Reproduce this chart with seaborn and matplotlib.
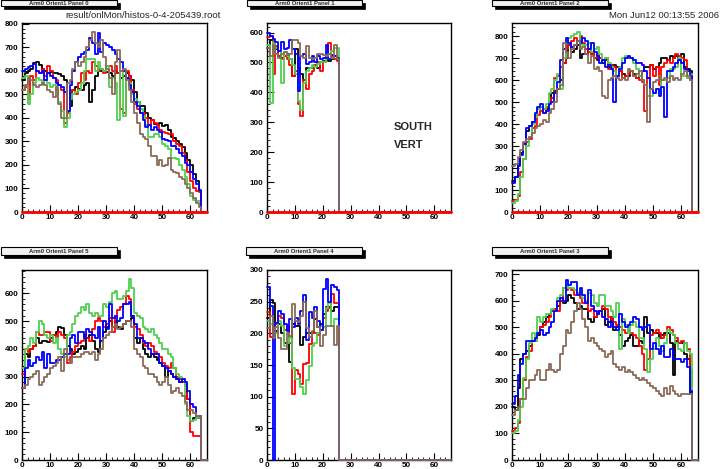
import matplotlib
matplotlib.use("Agg")
import matplotlib.pyplot as plt
from matplotlib.patches import Rectangle
from matplotlib.ticker import MultipleLocator
import numpy as np
import pandas as pd
import seaborn as sns

# ---------------- data ----------------
series_names = ["black", "red", "green", "blue", "brown"]
series_colors = ["#000000", "#ff0000", "#4fcf4f", "#0000ff", "#8b6a58"]

panel_titles = ["Arm0 Orient1 Panel 0", "Arm0 Orient1 Panel 1", "Arm0 Orient1 Panel 2",
                "Arm0 Orient1 Panel 5", "Arm0 Orient1 Panel 4", "Arm0 Orient1 Panel 3"]
panel_ymax = [804, 632, 860, 684, 300, 716]
panel_ymajor = [100, 100, 100, 100, 50, 100]

# Panel 0
p0_black = [560, 590, 600, 610, 635, 640, 625, 610, 600, 590, 595, 590, 590, 585, 580, 560, 430, 450, 520, 530,
            525, 520, 540, 550, 470, 520, 580, 610, 600, 600, 595, 590, 580, 600, 590, 570, 580, 590, 580, 560,
            510, 470, 450, 450, 420, 400, 390, 375, 370, 380, 365, 370, 350, 320, 315, 300, 290, 275, 250, 220,
            200, 160, 130, 90]
p0_red = [520, 530, 480, 580, 560, 600, 590, 610, 580, 620, 600, 570, 560, 540, 520, 380, 420, 510, 520, 500,
          550, 590, 560, 600, 590, 640, 620, 600, 610, 590, 620, 620, 600, 620, 590, 440, 420, 600, 580, 520,
          460, 440, 420, 420, 400, 370, 390, 380, 370, 350, 340, 335, 330, 330, 300, 290, 280, 250, 220, 170,
          130, 100, 90, 85]
p0_green = [570, 580, 460, 500, 550, 570, 560, 545, 560, 550, 530, 540, 520, 470, 430, 360, 400, 480, 500, 510,
            520, 550, 600, 650, 650, 650, 600, 640, 610, 600, 620, 530, 570, 550, 390, 600, 410, 570, 550, 500,
            480, 470, 440, 410, 370, 320, 320, 330, 330, 320, 290, 280, 270, 230, 230, 225, 200, 180, 150, 120,
            70, 50, 45, 45]
p0_blue = [600, 610, 615, 620, 630, 600, 590, 600, 560, 590, 580, 570, 550, 540, 530, 510, 430, 540, 600, 640,
           660, 670, 680, 690, 740, 720, 670, 760, 680, 720, 710, 700, 690, 670, 650, 640, 600, 570, 540, 510,
           470, 450, 420, 390, 360, 370, 350, 360, 350, 340, 310, 305, 300, 280, 280, 270, 250, 240, 210, 200,
           170, 140, 120, 95]
p0_brown = [520, 540, 570, 560, 540, 530, 540, 550, 540, 520, 510, 490, 530, 460, 400, 400, 550, 560, 610, 640,
            620, 640, 660, 700, 730, 765, 720, 700, 730, 660, 610, 570, 500, 640, 690, 600, 610, 560, 520, 470,
            420, 380, 330, 320, 310, 280, 240, 240, 200, 220, 195, 200, 230, 180, 170, 165, 150, 140, 120, 100,
            80, 60, 40, 20]

# Panel 1
p1_black = [550, 575, 560, 545, 520, 515, 520, 530, 510, 455, 545, 480, 460, 440, 480, 480, 480, 490, 480, 500,
            505, 510, 505, 510, 520, 510]
p1_red = [585, 590, 460, 555, 520, 510, 520, 510, 490, 455, 470, 360, 320, 440, 410, 460, 470, 490, 500, 470,
          500, 510, 565, 520, 510, 505]
p1_green = [560, 365, 570, 550, 540, 430, 535, 520, 510, 490, 460, 370, 340, 430, 470, 480, 490, 485, 495, 500,
            500, 510, 530, 540, 550, 550]
p1_blue = [600, 590, 580, 570, 540, 570, 545, 550, 575, 545, 530, 405, 520, 530, 495, 500, 520, 500, 520, 510,
           515, 560, 510, 525, 520, 515]
p1_brown = [550, 520, 560, 530, 515, 530, 535, 525, 530, 575, 575, 565, 520, 515, 555, 515, 510, 515, 530, 530,
            525, 520, 530, 515, 560, 510]

# Panel 2
p2_black = [140, 160, 220, 270, 310, 370, 390, 410, 440, 470, 480, 470, 470, 500, 540, 550, 560, 600, 680, 700,
            760, 730, 740, 760, 700, 720, 720, 740, 720, 700, 690, 700, 680, 690, 660, 650, 670, 660, 640, 630,
            620, 620, 640, 630, 610, 620, 640, 660, 660, 670, 650, 660, 680, 700, 700, 690, 710, 700, 710, 690,
            720, 660, 650, 640]
p2_red = [50, 55, 75, 180, 240, 320, 330, 380, 390, 440, 460, 450, 480, 500, 520, 610, 620, 660, 680, 740,
          760, 780, 790, 780, 800, 770, 740, 730, 720, 700, 720, 700, 690, 700, 650, 670, 660, 620, 640, 610,
          620, 630, 640, 620, 610, 600, 590, 460, 610, 670, 620, 660, 580, 660, 680, 690, 680, 700, 720, 710,
          700, 690, 610, 600]
p2_green = [40, 50, 80, 160, 240, 300, 340, 400, 430, 470, 480, 470, 490, 540, 560, 600, 630, 560, 700, 770,
            790, 800, 810, 820, 770, 760, 760, 770, 730, 740, 750, 720, 690, 700, 680, 660, 640, 620, 660, 700,
            710, 700, 700, 680, 650, 620, 600, 580, 530, 530, 540, 560, 550, 600, 600, 610, 650, 650, 660, 700,
            620, 620, 610, 630]
p2_blue = [130, 160, 210, 260, 310, 380, 390, 410, 450, 480, 490, 450, 460, 490, 500, 540, 590, 690, 740, 790,
           770, 750, 760, 780, 770, 790, 780, 740, 770, 730, 710, 680, 690, 660, 670, 650, 500, 620, 650, 680,
           700, 710, 700, 690, 680, 680, 670, 640, 610, 560, 540, 560, 530, 570, 430, 640, 640, 660, 680, 690,
           680, 650, 640, 620]
p2_brown = [210, 220, 250, 280, 320, 330, 340, 360, 380, 390, 400, 420, 410, 450, 470, 500, 560, 580, 770, 730,
            700, 740, 760, 780, 740, 750, 720, 680, 710, 650, 660, 640, 530, 520, 600, 610, 620, 610, 600, 610,
            600, 650, 640, 620, 630, 640, 600, 580, 410, 560, 590, 600, 620, 600, 610, 590, 620, 600, 610, 600,
            630, 640, 620, 600]

# Panel 5 (bottom left)
p3_black = [260, 380, 370, 400, 410, 440, 420, 430, 430, 425, 440, 450, 460, 480, 475, 450, 410, 400, 380, 390,
            400, 410, 400, 440, 450, 430, 400, 390, 430, 460, 480, 500, 480, 500, 480, 470, 490, 500, 500, 510,
            440, 420, 440, 400, 380, 370, 380, 370, 360, 350, 340, 300, 320, 310, 300, 290, 280, 280, 270, 220,
            140, 150, 150, 150]
p3_red = [310, 400, 390, 400, 410, 460, 450, 450, 460, 460, 430, 450, 440, 460, 450, 440, 350, 370, 390, 410,
          420, 430, 450, 440, 430, 470, 500, 510, 500, 480, 490, 510, 460, 520, 540, 550, 560, 590, 580, 520,
          480, 470, 450, 420, 410, 420, 410, 390, 380, 370, 350, 340, 330, 350, 330, 300, 290, 280, 270, 220,
          100, 85, 85, 85]
p3_green = [330, 400, 410, 440, 420, 460, 500, 490, 450, 440, 450, 420, 440, 400, 380, 370, 450, 460, 490, 520,
            530, 550, 540, 560, 530, 520, 530, 520, 520, 560, 550, 570, 600, 610, 580, 580, 590, 610, 650, 620,
            530, 520, 510, 480, 470, 460, 470, 450, 440, 420, 400, 400, 380, 370, 330, 310, 300, 290, 200, 160,
            140, 145, 150, 160]
p3_blue = [260, 330, 360, 340, 350, 370, 360, 390, 330, 380, 350, 350, 360, 360, 370, 380, 380, 440, 450, 420,
           460, 460, 440, 470, 460, 450, 440, 480, 430, 500, 470, 560, 510, 520, 500, 510, 560, 560, 570, 520,
           490, 440, 440, 430, 420, 400, 380, 380, 380, 350, 340, 330, 320, 310, 300, 290, 280, 290, 280, 250,
           200, 190, 160, 160]
p3_brown = [260, 270, 290, 300, 310, 320, 270, 280, 300, 310, 330, 340, 350, 370, 320, 400, 360, 350, 370, 370,
            370, 380, 390, 390, 380, 390, 360, 380, 400, 440, 450, 460, 480, 490, 470, 480, 490, 500, 500, 480,
            400, 380, 370, 340, 330, 310, 310, 300, 280, 270, 280, 300, 270, 240, 250, 260, 240, 230, 210, 180,
            180, 170, 160, 160]

# Panel 4 (bottom middle)
p4_black = [225, 252, 248, 203, 215, 200, 185, 185, 155, 215, 212, 212, 182, 195, 200, 200, 202, 222, 210, 215,
            230, 242, 242, 235, 242, 242]
p4_red = [233, 195, 192, 215, 228, 224, 205, 212, 185, 105, 142, 136, 120, 152, 153, 183, 200, 200, 198, 205,
          225, 236, 240, 262, 248, 248]
p4_green = [220, 215, 208, 200, 219, 212, 180, 185, 193, 145, 128, 128, 115, 105, 126, 148, 180, 185, 200, 212,
            210, 240, 248, 212, 222, 222]
p4_blue = [273, 243, 0, 217, 235, 230, 215, 203, 222, 210, 225, 215, 235, 260, 190, 233, 225, 242, 220, 205,
           270, 286, 250, 277, 273, 269]
p4_brown = [208, 228, 192, 210, 193, 175, 175, 200, 196, 247, 220, 218, 227, 250, 209, 195, 203, 235, 210, 180,
            197, 212, 212, 212, 182, 212]

# Panel 3 (bottom right)
p5_black = [200, 190, 270, 380, 400, 410, 430, 450, 460, 470, 500, 520, 540, 550, 560, 570, 580, 600, 590, 600,
            620, 610, 590, 570, 580, 570, 570, 530, 520, 540, 550, 560, 570, 510, 520, 540, 490, 500, 470, 430,
            450, 460, 470, 430, 430, 450, 440, 540, 480, 490, 480, 480, 460, 470, 480, 480, 440, 320, 450, 440,
            440, 400, 380, 250]
p5_red = [110, 120, 140, 230, 300, 390, 410, 450, 450, 480, 500, 510, 520, 540, 560, 570, 560, 600, 650, 640,
          650, 640, 620, 630, 610, 590, 600, 560, 570, 540, 550, 560, 580, 570, 540, 530, 520, 510, 500, 490,
          480, 490, 480, 470, 460, 430, 400, 340, 380, 470, 480, 490, 480, 460, 470, 500, 490, 470, 460, 440,
          450, 440, 420, 340]
p5_green = [100, 110, 150, 200, 310, 380, 440, 480, 450, 540, 520, 540, 550, 550, 570, 560, 610, 620, 650, 660,
            650, 650, 640, 630, 620, 610, 600, 630, 620, 590, 580, 620, 620, 580, 580, 560, 540, 590, 420, 530,
            510, 480, 510, 520, 500, 460, 460, 420, 330, 380, 420, 460, 430, 410, 440, 490, 480, 470, 440, 420,
            410, 440, 410, 400]
p5_blue = [210, 240, 320, 360, 400, 450, 450, 450, 460, 480, 490, 470, 480, 500, 520, 560, 600, 610, 600, 680,
           660, 670, 670, 620, 650, 620, 590, 640, 580, 560, 550, 560, 540, 530, 500, 520, 500, 490, 550, 520,
           500, 510, 520, 540, 530, 500, 490, 500, 510, 420, 440, 420, 400, 430, 390, 390, 420, 380, 380, 380,
           370, 380, 350, 260]
p5_brown = [170, 190, 200, 230, 230, 270, 300, 300, 320, 340, 300, 300, 340, 360, 340, 330, 340, 400, 430, 490,
            480, 520, 560, 590, 570, 530, 500, 450, 460, 440, 430, 420, 410, 390, 400, 410, 360, 350, 340, 350,
            330, 340, 330, 320, 310, 300, 310, 300, 290, 280, 270, 260, 250, 240, 270, 250, 280, 260, 250, 240,
            250, 250, 250, 250]

panels = [
    [p0_black, p0_red, p0_green, p0_blue, p0_brown],
    [p1_black, p1_red, p1_green, p1_blue, p1_brown],
    [p2_black, p2_red, p2_green, p2_blue, p2_brown],
    [p3_black, p3_red, p3_green, p3_blue, p3_brown],
    [p4_black, p4_red, p4_green, p4_blue, p4_brown],
    [p5_black, p5_red, p5_green, p5_blue, p5_brown],
]
XMAX = 66

# ---------------- figure ----------------
sns.set_theme(style="white")
plt.rcParams["font.family"] = ["Liberation Sans", "DejaVu Sans"]

W, H = 721, 469
fig = plt.figure(figsize=(W / 100, H / 100), dpi=100)
fig.patch.set_facecolor("white")


def fx(x):
    return x / W


def fy(y):
    return 1 - y / H


# axes pixel boxes (left, top, right, bottom)
boxes = [(22, 23, 207, 212), (267, 23, 451, 212), (512, 23, 698, 212),
         (22, 270, 207, 460), (267, 270, 451, 460), (512, 270, 698, 460)]
title_boxes = [(1, 0.5, 117, 6.5), (247, 0.5, 362, 6.5), (492, 0.5, 608, 6.5),
               (1, 247, 117, 255), (246, 247, 362, 255), (492, 247, 608, 255)]

palette = dict(zip(series_names, series_colors))

for i, (vals_list, box) in enumerate(zip(panels, boxes)):
    l, t, r, b = box
    ax = fig.add_axes([fx(l), fy(b), fx(r - l), (b - t) / H])
    rows = []
    for name, vals in zip(series_names, vals_list):
        padded = list(vals) + [0] * (XMAX - len(vals))
        ys = padded + [padded[-1]]
        for xi, yi in enumerate(ys):
            rows.append({"series": name, "x": xi, "y": yi})
    df = pd.DataFrame(rows)
    sns.lineplot(data=df, x="x", y="y", hue="series", hue_order=series_names,
                 palette=palette, drawstyle="steps-post", estimator=None,
                 sort=False, legend=False, linewidth=1.3, ax=ax)
    for ln in ax.lines:
        ln.set_clip_on(False)
        ln.set_zorder(3)
    if i < 3:
        ax.axhline(0, color="#ff0000", lw=2.0, clip_on=False, zorder=4)

    ax.set_xlim(0, XMAX)
    ax.set_ylim(0, panel_ymax[i])
    ax.set_xlabel("")
    ax.set_ylabel("")
    ax.set_xticks(np.arange(0, 61, 10))
    ax.xaxis.set_minor_locator(MultipleLocator(2))
    ax.yaxis.set_major_locator(MultipleLocator(panel_ymajor[i]))
    ax.yaxis.set_minor_locator(MultipleLocator(panel_ymajor[i] / 5))
    ax.tick_params(which="major", direction="in", length=5, width=0.8,
                   labelsize=5.8, pad=1.5, colors="black",
                   top=False, right=False, bottom=True, left=True)
    ax.tick_params(which="minor", direction="in", length=2.5, width=0.7,
                   top=False, right=False, bottom=True, left=True)
    ax.tick_params(axis="y", which="major", pad=2.5)
    for lbl in ax.get_xticklabels() + ax.get_yticklabels():
        lbl.set_fontweight("bold")
    for sp in ax.spines.values():
        sp.set_color("black")
        sp.set_linewidth(1.0)
        sp.set_visible(True)
    ax.set_facecolor("white")
    ax.grid(False)

# title boxes with shadow
for (x0, y0, x1, y1), title in zip(title_boxes, panel_titles):
    shadow = Rectangle((fx(x0 + 3), fy(y1 + 2.5)), fx(x1 - x0), (y1 - y0) / H,
                       transform=fig.transFigure, facecolor="black",
                       edgecolor="black", lw=0.5)
    fig.add_artist(shadow)
    rect = Rectangle((fx(x0), fy(y1)), fx(x1 - x0), (y1 - y0) / H,
                     transform=fig.transFigure, facecolor="#f2f2f2",
                     edgecolor="black", lw=0.8)
    fig.add_artist(rect)
    fig.text(fx((x0 + x1) / 2), fy((y0 + y1) / 2), title, fontsize=4.2,
             fontweight="bold", ha="center", va="center")

fig.text(fx(143), fy(16), "result/onlMon/histos-0-4-205439.root",
         fontsize=6.8, ha="center", va="center")
fig.text(fx(719), fy(16), "Mon Jun12 00:13:55 2006",
         fontsize=6.8, ha="right", va="center")
fig.text(fx(394), fy(127), "SOUTH", fontsize=8, fontweight="bold",
         ha="left", va="center")
fig.text(fx(394), fy(145), "VERT", fontsize=8, fontweight="bold",
         ha="left", va="center")

fig.savefig("out.png", dpi=100)
